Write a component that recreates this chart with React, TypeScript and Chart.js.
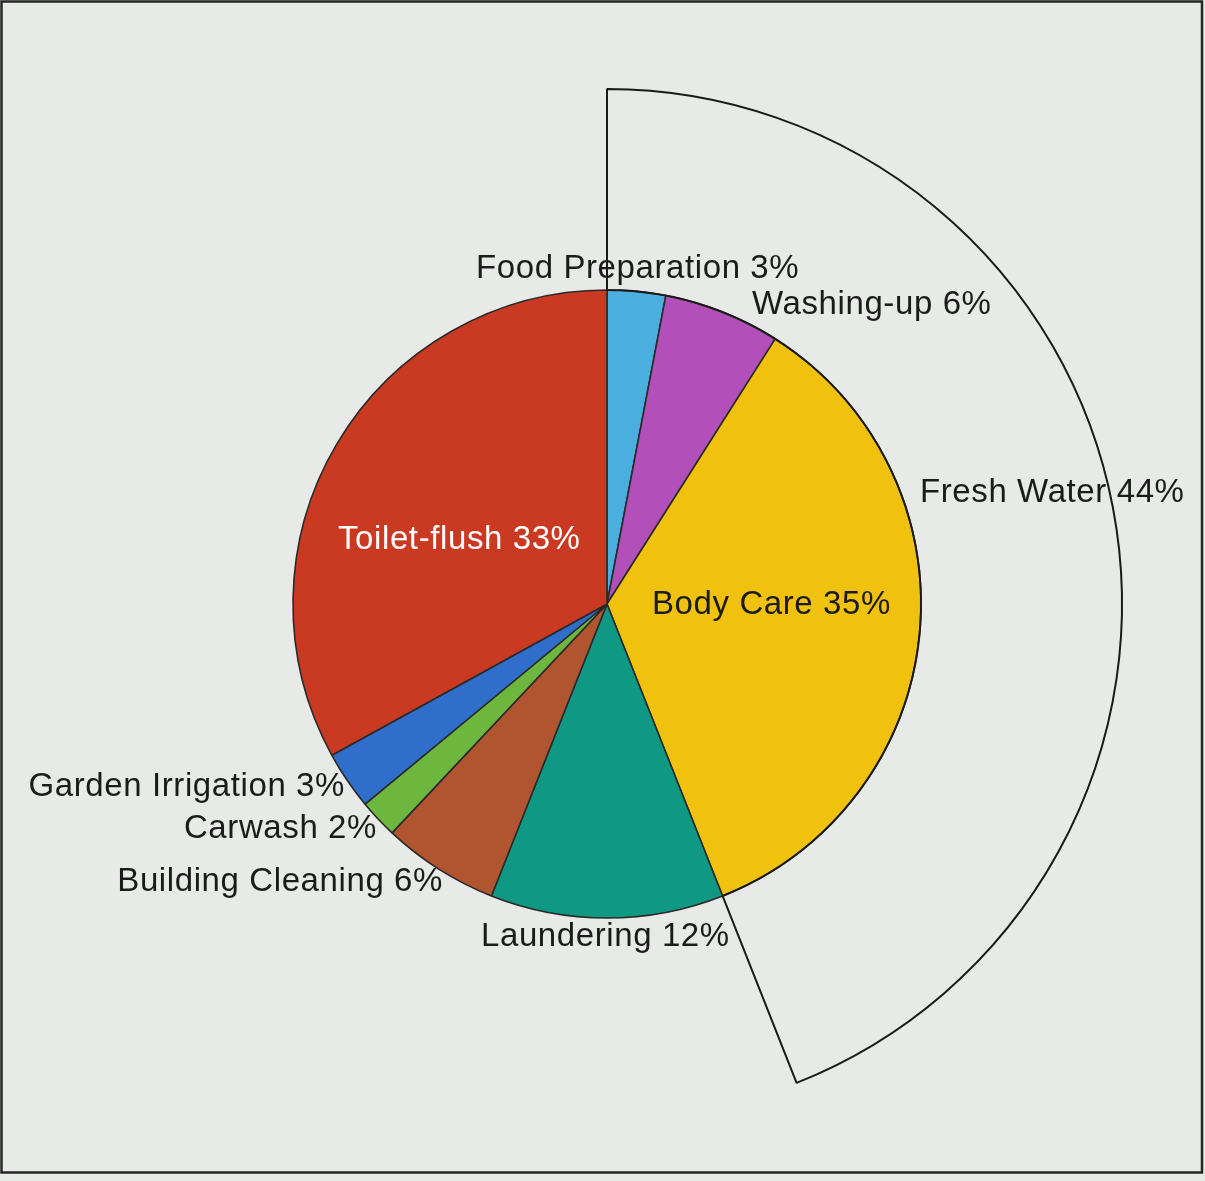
import React, { useEffect, useRef } from "react";
import { Chart, registerables } from "chart.js";

Chart.register(...registerables);

// ---- data ----
const categories = [
  "Food Preparation",
  "Washing-up",
  "Body Care",
  "Laundering",
  "Building Cleaning",
  "Carwash",
  "Garden Irrigation",
  "Toilet-flush",
];
const shares = [3, 6, 35, 12, 6, 2, 3, 33];

const groupNames = ["Fresh Water", ""];
const groupShares = [44, 56];

// ---- styles ----
const sliceColors = [
  "#4aaede",
  "#b24fb8",
  "#f0c20e",
  "#0f9883",
  "#b0552f",
  "#6db73f",
  "#2f6fcb",
  "#ca3a22",
];
const BG = "#e7eae7";
const INK = "#1b1b1b";
const FONT = "33px 'Liberation Sans', Arial, Helvetica, sans-serif";

// label placement: offset from pie centre in pie-radius units
type Lbl = { text: string; dx: number; dy: number; align: CanvasTextAlign; inside: boolean; color: string };

function buildLabels(): Lbl[] {
  const pos: Record<string, { dx: number; dy: number; align: CanvasTextAlign; inside: boolean; color: string }> = {
    "Food Preparation": { dx: -131, dy: -335, align: "left", inside: false, color: INK },
    "Washing-up": { dx: 145, dy: -299, align: "left", inside: false, color: INK },
    "Body Care": { dx: 45, dy: 1, align: "left", inside: true, color: INK },
    Laundering: { dx: -126, dy: 333, align: "left", inside: false, color: INK },
    "Building Cleaning": { dx: -164, dy: 278, align: "right", inside: false, color: INK },
    Carwash: { dx: -230, dy: 225, align: "right", inside: false, color: INK },
    "Garden Irrigation": { dx: -262, dy: 183, align: "right", inside: false, color: INK },
    "Toilet-flush": { dx: -269, dy: -64, align: "left", inside: true, color: "#ffffff" },
    "Fresh Water": { dx: 313, dy: -111, align: "left", inside: false, color: INK },
  };
  const out: Lbl[] = [];
  categories.forEach((c, i) => {
    const p = pos[c];
    out.push({ text: `${c} ${shares[i]}%`, dx: p.dx / 314, dy: p.dy / 314, align: p.align, inside: p.inside, color: p.color });
  });
  const g = pos[groupNames[0]];
  out.push({ text: `${groupNames[0]} ${groupShares[0]}%`, dx: g.dx / 314, dy: g.dy / 314, align: g.align, inside: g.inside, color: g.color });
  return out;
}

function drawLabels(chart: any, inside: boolean) {
  const meta = chart.getDatasetMeta(1);
  const arc: any = meta.data[0];
  if (!arc) return;
  const cx = arc.x;
  const cy = arc.y;
  const r = arc.outerRadius;
  const ctx: CanvasRenderingContext2D = chart.ctx;
  ctx.save();
  ctx.font = FONT;
  (ctx as any).letterSpacing = "0.6px";
  ctx.textBaseline = "middle";
  for (const l of buildLabels()) {
    if (l.inside !== inside) continue;
    ctx.fillStyle = l.color;
    ctx.textAlign = l.align;
    ctx.fillText(l.text, cx + l.dx * r, cy + l.dy * r);
  }
  ctx.restore();
}

const decoPlugin = {
  id: "deco",
  beforeDraw(chart: any) {
    const ctx: CanvasRenderingContext2D = chart.ctx;
    ctx.save();
    ctx.fillStyle = BG;
    ctx.fillRect(0, 0, chart.width, chart.height);
    ctx.restore();
  },
  beforeDatasetsDraw(chart: any) {
    drawLabels(chart, false);
  },
  afterDatasetsDraw(chart: any) {
    drawLabels(chart, true);
  },
  afterDraw(chart: any) {
    const ctx: CanvasRenderingContext2D = chart.ctx;
    ctx.save();
    ctx.strokeStyle = "#252525";
    ctx.lineWidth = 2.5;
    ctx.strokeRect(1.5, 1.5, chart.width - 4.5, chart.height - 10);
    ctx.restore();
  },
};

export default function App() {
  const ref = useRef<HTMLCanvasElement | null>(null);
  useEffect(() => {
    document.body.style.margin = "0";
    if (!ref.current) return;
    const chart = new Chart(ref.current, {
      type: "pie",
      data: {
        labels: categories,
        datasets: [
          {
            data: groupShares,
            backgroundColor: ["rgba(0,0,0,0)", "rgba(0,0,0,0)"],
            borderColor: ["#1a1a1a", "rgba(0,0,0,0)"],
            borderWidth: [2, 0],
            weight: 201,
            radius: 515,
          } as any,
          {
            data: shares,
            backgroundColor: sliceColors,
            borderColor: "#2a2a2a",
            borderWidth: 1.6,
            weight: 314,
            radius: 515,
          } as any,
        ],
      },
      options: {
        animation: false,
        responsive: false,
        events: [],
        layout: { padding: { left: 9, right: 0, top: 27, bottom: 0 } },
        plugins: {
          legend: { display: false },
          tooltip: { enabled: false },
        },
      } as any,
      plugins: [decoPlugin],
    });
    return () => chart.destroy();
  }, []);
  return (
    <div style={{ position: "absolute", left: 0, top: 0, width: 1205, height: 1181 }}>
      <canvas ref={ref} width={1205} height={1181} style={{ width: 1205, height: 1181, display: "block" }} />
    </div>
  );
}
